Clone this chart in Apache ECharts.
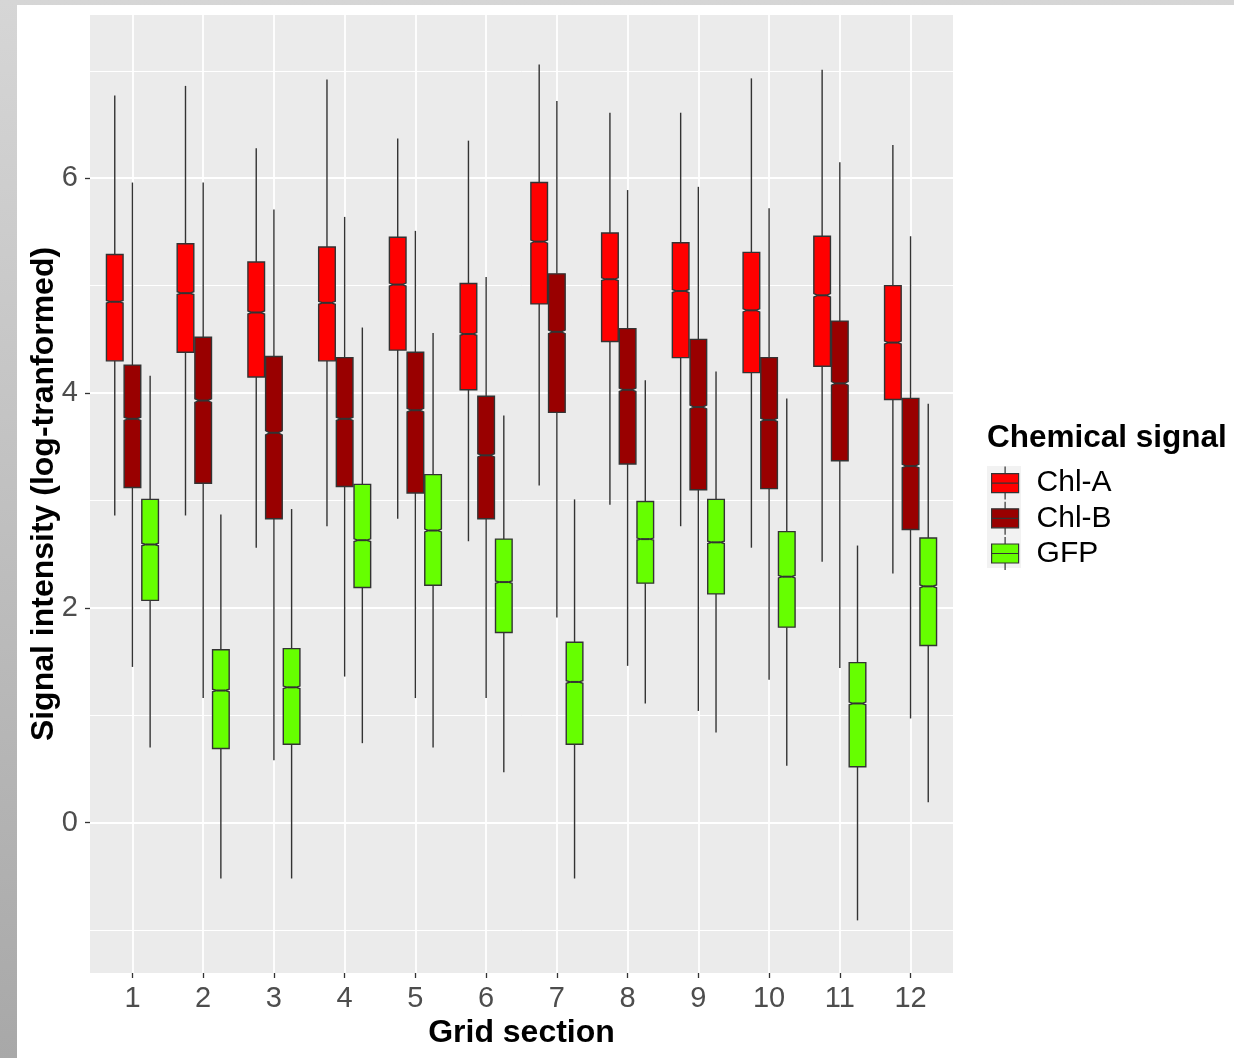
<!DOCTYPE html>
<html>
<head>
<meta charset="utf-8">
<script src="https://cdn.jsdelivr.net/npm/echarts@6/dist/echarts.min.js"></script>
<style>
html,body{margin:0;padding:0;width:1234px;height:1058px;overflow:hidden;background:linear-gradient(to bottom,#d6d6d6,#a8a8a8);}
#paper{position:absolute;left:17px;top:5px;width:1217px;height:1053px;background:#ffffff;}
#main{position:absolute;left:0;top:0;width:1234px;height:1058px;}
</style>
</head>
<body>
<div id="paper"></div>
<div id="main"></div>
<script>
// ---------------- data ----------------
const categories = [1, 2, 3, 4, 5, 6, 7, 8, 9, 10, 11, 12];
const seriesNames = ['Chl-A', 'Chl-B', 'GFP'];
const yTickValues = [0, 2, 4, 6];
const yMinorValues = [-1, 1, 3, 5, 7];
// each row: [lower whisker, Q1, median, Q3, upper whisker] per grid section
const chlA = [
  [2.86, 4.30, 4.85, 5.29, 6.77],
  [2.86, 4.38, 4.93, 5.39, 6.86],
  [2.56, 4.15, 4.75, 5.22, 6.28],
  [2.76, 4.30, 4.84, 5.36, 6.92],
  [2.83, 4.40, 5.01, 5.45, 6.37],
  [2.62, 4.03, 4.55, 5.02, 6.35],
  [3.14, 4.83, 5.41, 5.96, 7.06],
  [2.96, 4.48, 5.06, 5.49, 6.61],
  [2.76, 4.33, 4.95, 5.40, 6.61],
  [2.56, 4.19, 4.77, 5.31, 6.93],
  [2.43, 4.25, 4.91, 5.46, 7.01],
  [2.32, 3.94, 4.47, 5.00, 6.31]
];
const chlB = [
  [1.45, 3.12, 3.76, 4.26, 5.96],
  [1.16, 3.16, 3.93, 4.52, 5.96],
  [0.58, 2.83, 3.63, 4.34, 5.71],
  [1.36, 3.13, 3.76, 4.33, 5.64],
  [1.16, 3.07, 3.84, 4.38, 5.51],
  [1.16, 2.83, 3.42, 3.97, 5.08],
  [1.91, 3.82, 4.57, 5.11, 6.72],
  [1.46, 3.34, 4.03, 4.60, 5.89],
  [1.04, 3.10, 3.87, 4.50, 5.92],
  [1.33, 3.11, 3.75, 4.33, 5.72],
  [1.44, 3.37, 4.09, 4.67, 6.15],
  [0.97, 2.73, 3.32, 3.95, 5.46]
];
const gfp = [
  [0.70, 2.07, 2.59, 3.01, 4.16],
  [-0.52, 0.69, 1.23, 1.61, 2.87],
  [-0.52, 0.73, 1.26, 1.62, 2.92],
  [0.74, 2.19, 2.63, 3.15, 4.61],
  [0.70, 2.21, 2.72, 3.24, 4.56],
  [0.47, 1.77, 2.24, 2.64, 3.79],
  [-0.52, 0.73, 1.31, 1.68, 3.01],
  [1.11, 2.23, 2.64, 2.99, 4.12],
  [0.84, 2.13, 2.61, 3.01, 4.20],
  [0.53, 1.82, 2.29, 2.71, 3.95],
  [-0.91, 0.52, 1.11, 1.49, 2.58],
  [0.19, 1.65, 2.20, 2.65, 3.90]
];
const N_OBS = 15000; // approximate sample size per box (controls notch size)

// ---------------- style ----------------
const FONT = '"Liberation Sans", Arial, Helvetica, sans-serif';
const COLORS = ['#FF0000', '#990000', '#66FF00'];
const OUTLINE = '#333333';
const OFFSETS = [-0.25, 0, 0.25];
const BOX_W = 0.235;

function makeRenderer(offset) {
  return function (params, api) {
    const x = api.value(0);
    const lo = api.value(1), q1 = api.value(2), md = api.value(3), q3 = api.value(4), hi = api.value(5);
    const c = x + offset;
    const hw = BOX_W / 2, nw = BOX_W / 4;
    const notch = 1.58 * (q3 - q1) / Math.sqrt(N_OBS);
    const P = (a, b) => api.coord([a, b]);
    const pts = [
      P(c - hw, q1), P(c - hw, md - notch), P(c - nw, md), P(c - hw, md + notch), P(c - hw, q3),
      P(c + hw, q3), P(c + hw, md + notch), P(c + nw, md), P(c + hw, md - notch), P(c + hw, q1)
    ];
    const pTop = P(c, hi), pQ3 = P(c, q3), pQ1 = P(c, q1), pLo = P(c, lo);
    const pMl = P(c - nw, md), pMr = P(c + nw, md);
    const ls = { stroke: OUTLINE, lineWidth: 1.4 };
    return {
      type: 'group',
      children: [
        { type: 'line', shape: { x1: pTop[0], y1: pTop[1], x2: pQ3[0], y2: pQ3[1] }, style: ls },
        { type: 'line', shape: { x1: pQ1[0], y1: pQ1[1], x2: pLo[0], y2: pLo[1] }, style: ls },
        { type: 'polygon', shape: { points: pts }, style: { fill: api.visual('color'), stroke: OUTLINE, lineWidth: 1.4 } },
        { type: 'line', shape: { x1: pMl[0], y1: pMl[1], x2: pMr[0], y2: pMr[1] }, style: { stroke: OUTLINE, lineWidth: 2 } }
      ]
    };
  };
}

const allData = [chlA, chlB, gfp];
const series = seriesNames.map((name, i) => ({
  name: name,
  type: 'custom',
  renderItem: makeRenderer(OFFSETS[i]),
  itemStyle: { color: COLORS[i] },
  encode: { x: 0, y: [1, 2, 3, 4, 5] },
  data: categories.map((cat, k) => [cat].concat(allData[i][k])),
  silent: true
}));

const chart = echarts.init(document.getElementById('main'), null, { renderer: 'canvas' });
chart.setOption({
  animation: false,
  backgroundColor: 'transparent',
  color: COLORS,
  grid: { left: 90, top: 15, width: 863, height: 958, show: true, backgroundColor: '#EBEBEB', borderWidth: 0 },
  xAxis: {
    type: 'value', min: 0.4, max: 12.6,
    axisLine: { show: false, onZero: false },
    axisTick: { show: true, customValues: categories, length: 5, lineStyle: { color: OUTLINE, width: 1.3 } },
    axisLabel: { customValues: categories, margin: 11, fontSize: 29, color: '#4D4D4D', fontFamily: FONT, formatter: v => String(v) },
    splitLine: { show: true, lineStyle: { color: '#FFFFFF', width: 1.8 } },
    name: 'Grid section', nameLocation: 'middle', nameGap: 44, nameMoveOverlap: false,
    nameTextStyle: { fontSize: 32, fontWeight: 'bold', color: '#000000', fontFamily: FONT }
  },
  yAxis: [
    {
      type: 'value', min: -1.40, max: 7.52,
      axisLine: { show: false, onZero: false },
      axisTick: { show: true, customValues: yTickValues, length: 5, lineStyle: { color: OUTLINE, width: 1.3 } },
      axisLabel: { customValues: yTickValues, margin: 12, fontSize: 29, color: '#4D4D4D', fontFamily: FONT, formatter: v => String(v) },
      splitLine: { show: true, lineStyle: { color: '#FFFFFF', width: 1.8 } },
      name: 'Signal intensity (log-tranformed)', nameLocation: 'middle', nameGap: 30, nameRotate: 90, nameMoveOverlap: false,
      nameTextStyle: { fontSize: 32, fontWeight: 'bold', color: '#000000', fontFamily: FONT }
    },
    {
      type: 'value', min: -1.40, max: 7.52, position: 'right',
      axisLine: { show: false, onZero: false },
      axisTick: { show: false, customValues: yMinorValues },
      axisLabel: { show: false, customValues: yMinorValues },
      splitLine: { show: true, lineStyle: { color: '#FFFFFF', width: 1.0 } }
    }
  ],
  title: {
    text: 'Chemical signal', left: 987, top: 423, padding: 0,
    textStyle: { fontSize: 31.5, fontWeight: 'bold', color: '#000000', fontFamily: FONT, lineHeight: 31 }
  },
  legend: {
    data: seriesNames, orient: 'vertical', left: 991, top: 466, padding: 0,
    itemWidth: 27, itemHeight: 33, itemGap: 1,
    icon: 'path://M13.5,0L13.5,7M0,7L27,7L27,26L0,26ZM0,16.5L27,16.5M13.5,26L13.5,33',
    itemStyle: { borderColor: OUTLINE, borderWidth: 1.2 },
    textStyle: { fontSize: 30, color: '#000000', fontFamily: FONT, lineHeight: 20, padding: [13, 0, 0, 13] },
    selectedMode: false
  },
  graphic: [
    { type: 'rect', left: 987, top: 466, z: -1, shape: { width: 34, height: 34 }, style: { fill: '#F2F2F2' } },
    { type: 'rect', left: 987, top: 500, z: -1, shape: { width: 34, height: 34 }, style: { fill: '#F2F2F2' } },
    { type: 'rect', left: 987, top: 534, z: -1, shape: { width: 34, height: 34 }, style: { fill: '#F2F2F2' } }
  ],
  series: series
});
</script>
</body>
</html>
